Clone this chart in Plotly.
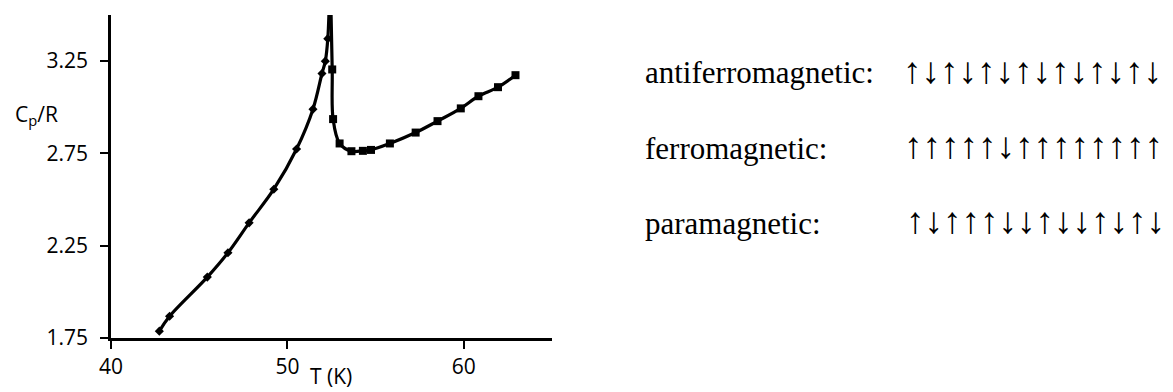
import plotly.graph_objects as go

# Data
t_low = [42.74, 43.32, 45.46, 46.63, 47.83, 49.23, 50.52, 51.45, 51.96, 52.15, 52.29, 52.39]
cp_low = [1.787, 1.868, 2.080, 2.212, 2.374, 2.556, 2.774, 2.990, 3.183, 3.250, 3.372, 3.62]
t_high = [52.45, 52.54, 52.59, 52.96, 53.63, 54.28, 54.74, 55.81, 57.27, 58.51, 59.83, 60.83, 61.94, 62.93]
cp_high = [3.62, 3.205, 2.936, 2.804, 2.762, 2.764, 2.769, 2.804, 2.863, 2.925, 2.994, 3.060, 3.109, 3.174]

x_ticks = [40, 50, 60]
y_ticks = [1.75, 2.25, 2.75, 3.25]

state_labels = ["antiferromagnetic:", "ferromagnetic:", "paramagnetic:"]
state_spins = ["↑↓↑↓↑↓↑↓↑↓↑↓↑↓", "↑↑↑↑↑↓↑↑↑↑↑↑↑↑", "↑↓↑↑↑↓↓↑↓↓↑↓↑↓"]

W, H = 1173, 392
ML, MT, MB = 111, 15, 54
PLOT_W = 441
PW = W - ML          # paper width (r=0)
PH = H - MT - MB     # plot height

def px2paper_x(px):
    return (px - ML) / PW

def py2paper_y(py):
    return (H - MB - py) / PH

fig = go.Figure()
fig.add_trace(go.Scatter(x=t_low, y=cp_low, mode="lines+markers", line_shape="spline",
                         line=dict(color="black", width=3.2),
                         marker=dict(symbol="diamond", size=7, color="black"),
                         showlegend=False))
fig.add_trace(go.Scatter(x=t_high, y=cp_high, mode="lines+markers", line_shape="spline",
                         line=dict(color="black", width=3.2),
                         marker=dict(symbol="square", size=8, color="black"),
                         showlegend=False))

tickfont = dict(family="Open Sans", size=21, color="black")
fig.update_layout(
    width=W, height=H,
    margin=dict(l=ML, r=0, t=MT, b=MB),
    plot_bgcolor="white", paper_bgcolor="white",
    xaxis=dict(domain=[0, PLOT_W / PW], range=[40, 65], tickvals=x_ticks,
               ticktext=[str(v) for v in x_ticks],
               showgrid=False, zeroline=False, showline=True, linecolor="black", linewidth=2.5,
               ticks="outside", ticklen=8, tickwidth=2, tickcolor="black", tickfont=tickfont),
    yaxis=dict(range=[1.75, 3.5], tickvals=y_ticks, ticktext=["%.2f" % v for v in y_ticks],
               showgrid=False, zeroline=False, showline=True, linecolor="black", linewidth=2.5,
               ticks="outside", ticklen=8, tickwidth=2, tickcolor="black", tickfont=tickfont,
               ticklabelstandoff=8),
)

annotations = [
    dict(text="C<sub>p</sub>/R", x=px2paper_x(13), y=py2paper_y(115), xanchor="left", yanchor="middle",
         font=dict(family="Open Sans", size=21, color="black")),
    dict(text="T (K)", x=px2paper_x(331), y=py2paper_y(392), xanchor="center", yanchor="bottom",
         font=dict(family="Open Sans", size=21, color="black")),
]
row_y = [73, 148, 223]
spin_y = [70, 145, 220]
spin_x = [901, 902, 904]
for lab, spins, ry, sy, sx in zip(state_labels, state_spins, row_y, spin_y, spin_x):
    annotations.append(dict(text=lab, x=px2paper_x(643), y=py2paper_y(ry), xanchor="left", yanchor="middle",
                            font=dict(family="Liberation Serif", size=31, color="black")))
    annotations.append(dict(text=spins, x=px2paper_x(sx), y=py2paper_y(sy), xanchor="left", yanchor="middle",
                            font=dict(family="Liberation Serif", size=37, color="black")))
for a in annotations:
    a.update(xref="paper", yref="paper", showarrow=False)
fig.update_layout(annotations=annotations)

fig.write_html("out.html")
